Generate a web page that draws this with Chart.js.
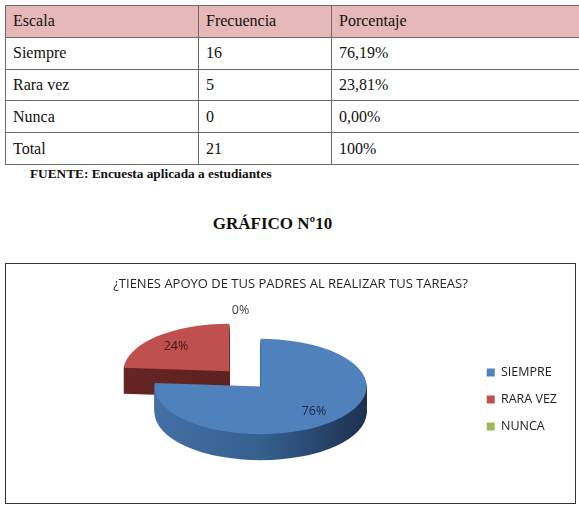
<!DOCTYPE html>
<html lang="es">
<head>
<meta charset="utf-8">
<title>Gráfico Nº10</title>
<script src="https://cdn.jsdelivr.net/npm/chart.js@4.4.1/dist/chart.umd.min.js"></script>
<style>
  html, body { margin: 0; padding: 0; background: #fff; }
  body { width: 579px; height: 521px; position: relative; overflow: hidden; font-family: 'Liberation Serif', 'Times New Roman', serif; }
  table.datos { position: absolute; left: 5px; top: 5px; width: 600px; border-collapse: collapse; font-size: 16px; color: #111; }
  table.datos td { border: 1px solid #6b6b6b; padding: 0 7px; height: 30.8px; vertical-align: middle; }
  table.datos tr.head td { background: #e6b9b8; }
  .fuente { position: absolute; left: 30px; top: 166px; font-weight: bold; font-size: 13.3px; color: #111; }
  .grafico { position: absolute; left: 0; width: 545px; top: 214px; text-align: center; font-weight: bold; font-size: 17px; color: #111; }
  .box { position: absolute; left: 5px; top: 263px; width: 571px; height: 241px; border: 1.5px solid #333; box-sizing: border-box; }
  .box canvas { display: block; }
  .titulo { position: absolute; left: 0; right: 0; top: 10px; text-align: center; font-family: 'Open Sans', 'Liberation Sans', sans-serif; font-size: 13px; color: #262626; }
</style>
</head>
<body>
<table class="datos">
  <tr class="head"><td style="width:178px">Escala</td><td style="width:118px">Frecuencia</td><td>Porcentaje</td></tr>
  <tr><td>Siempre</td><td>16</td><td>76,19%</td></tr>
  <tr><td>Rara vez</td><td>5</td><td>23,81%</td></tr>
  <tr><td>Nunca</td><td>0</td><td>0,00%</td></tr>
  <tr><td>Total</td><td>21</td><td>100%</td></tr>
</table>
<div class="fuente">FUENTE: Encuesta aplicada a estudiantes</div>
<div class="grafico">GRÁFICO Nº10</div>

<div class="box">
  <canvas id="pie"></canvas>
  <div class="titulo" id="titulo"></div>
</div>

<script>
// ── Data ──────────────────────────────────────────────────────
const labels      = ['SIEMPRE', 'RARA VEZ', 'NUNCA'];
const frecuencias = [16, 5, 0];
const titulo      = '¿TIENES APOYO DE TUS PADRES AL REALIZAR TUS TAREAS?';

// ── Style ─────────────────────────────────────────────────────
const topColors   = ['#4f81bd', '#c0504d', '#9bbb59'];
const sideColors  = [['#436fa5', '#35608f', '#1c3150'], ['#652523', '#5e2221', '#4a1a19'], ['#6f8a3c', '#627a35', '#4d602a']];
const labelColors = ['#1a2540', '#3a1515', '#404040'];
const offsets     = [0, 46, 0];
const FONT        = "'Open Sans', 'Liberation Sans', sans-serif";

const TILT  = 0.45;  // vertical squash of the pie
const DEPTH = 26;    // thickness of the 3D side

document.getElementById('titulo').textContent = titulo;

// draws the pie as a squashed, extruded disc using the arc geometry from Chart.js
const pie3d = {
  id: 'pie3d',
  beforeDatasetsDraw(chart) {
    const { ctx } = chart;
    const meta  = chart.getDatasetMeta(0);
    const data  = chart.data.datasets[0].data;
    const total = data.reduce((s, v) => s + v, 0) || 1;

    const parts = meta.data.map((arc, i) => {
      const p   = arc.getProps(['x', 'y', 'startAngle', 'endAngle', 'outerRadius'], true);
      const mid = (p.startAngle + p.endAngle) / 2;
      const off = arc.options.offset || 0;
      return {
        i, p, mid,
        cx: p.x + Math.cos(mid) * off,
        cy: p.y - DEPTH / 2 + Math.sin(mid) * off * TILT,
        value: data[i],
      };
    });

    const path = (q, dy) => {
      const R = q.p.outerRadius;
      ctx.beginPath();
      ctx.moveTo(q.cx, q.cy + dy);
      ctx.ellipse(q.cx, q.cy + dy, R, R * TILT, 0, q.p.startAngle, q.p.endAngle);
      ctx.closePath();
    };

    ctx.save();
    // back slices first
    parts.filter(q => q.value > 0)
      .sort((a, b) => Math.sin(a.mid) - Math.sin(b.mid))
      .forEach(q => {
        const R = q.p.outerRadius;
        const g = ctx.createLinearGradient(q.cx - R, 0, q.cx + R, 0);
        const sc = sideColors[q.i];
        g.addColorStop(0, sc[0]); g.addColorStop(0.5, sc[1]); g.addColorStop(1, sc[2]);
        ctx.fillStyle = g;
        for (let d = DEPTH; d > 0; d--) { path(q, d); ctx.fill(); }
        ctx.fillStyle = topColors[q.i];
        path(q, 0); ctx.fill();
      });

    // percentage labels
    ctx.font = `12.5px ${FONT}`;
    ctx.textAlign = 'center';
    ctx.textBaseline = 'middle';
    parts.forEach(q => {
      const R   = q.p.outerRadius;
      const txt = Math.round(q.value / total * 100) + '%';
      let x, y;
      if (q.value > 0) {
        x = q.cx + Math.cos(q.mid) * R * 0.74;
        y = q.cy + Math.sin(q.mid) * R * 0.72 * TILT;
      } else {
        // empty slice: label sits outside, above the pie
        x = q.cx + Math.cos(q.mid) * R * 1.64 - 20;
        y = q.cy + Math.sin(q.mid) * R * 1.6 * TILT;
      }
      ctx.fillStyle = labelColors[q.i];
      ctx.fillText(txt, x, y);
    });
    ctx.restore();
    return false;
  }
};

new Chart(document.getElementById('pie'), {
  type: 'pie',
  data: {
    labels,
    datasets: [{
      data: frecuencias,
      backgroundColor: topColors,
      borderWidth: 0,
      offset: offsets,
      radius: 106,
    }],
  },
  options: {
    responsive: true,
    maintainAspectRatio: false,
    animation: false,
    layout: { padding: { left: 43, right: 8, top: 40, bottom: 8 } },
    plugins: {
      title: { display: false },
      legend: {
        position: 'right',
        fullSize: false,
        labels: {
          color: '#222',
          font: { family: FONT, size: 12.5 },
          boxWidth: 8,
          boxHeight: 8,
          padding: 14.5,
        },
      },
      tooltip: { enabled: false },
    },
  },
  plugins: [pie3d],
});
</script>
</body>
</html>
